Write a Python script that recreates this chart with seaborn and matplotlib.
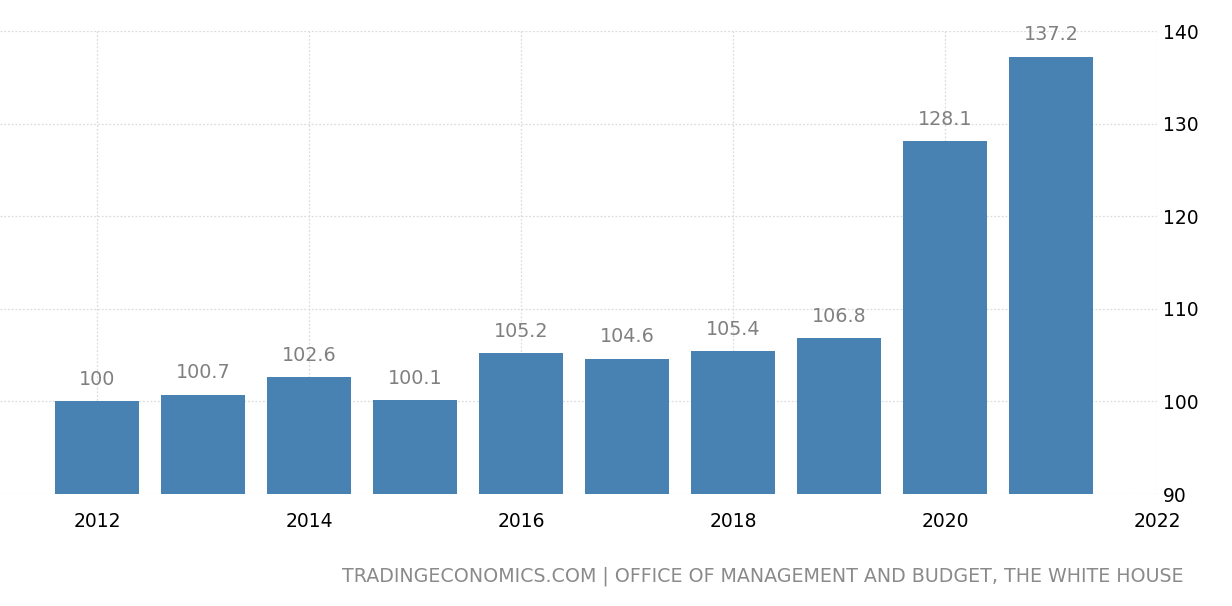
import matplotlib
matplotlib.use("Agg")
import matplotlib.pyplot as plt
import seaborn as sns
import pandas as pd

years = [2012, 2013, 2014, 2015, 2016, 2017, 2018, 2019, 2020, 2021]
values = [100, 100.7, 102.6, 100.1, 105.2, 104.6, 105.4, 106.8, 128.1, 137.2]
labels = ["100", "100.7", "102.6", "100.1", "105.2", "104.6", "105.4", "106.8", "128.1", "137.2"]
xticks = [2012, 2014, 2016, 2018, 2020, 2022]
yticks = [90, 100, 110, 120, 130, 140]
source = "TRADINGECONOMICS.COM | OFFICE OF MANAGEMENT AND BUDGET, THE WHITE HOUSE"

sns.set_style("white")
plt.rcParams['font.family'] = ['DejaVu Sans']

df = pd.DataFrame({"year": years, "value": values})

fig = plt.figure(figsize=(12.32, 6.06), dpi=100)
ax = fig.add_axes([0.0, 1 - 494 / 606, 1157 / 1232, (494 - 31) / 606])

sns.barplot(data=df, x="year", y="value", native_scale=True, width=0.8,
            color="#4882b2", saturation=1, ax=ax, zorder=3, edgecolor="none")

ax.set_xlim(2012 - 97 / 106, 2022)
ax.set_ylim(90, 140)
ax.set_xticks(xticks)
ax.set_xticklabels([str(t) for t in xticks])
ax.set_yticks(yticks)
ax.yaxis.tick_right()
ax.tick_params(axis="y", length=0, pad=4, labelsize=13.5, colors="black")
ax.tick_params(axis="x", length=5, width=1, color="#d0d0d0", pad=8, labelsize=13.5, labelcolor="black")
ax.set_xlabel("")
ax.set_ylabel("")
for s in ax.spines.values():
    s.set_visible(False)
ax.grid(True, which="major", axis="both", color="#dcdcdc", linestyle=(0, (1.5, 1.5)), linewidth=0.9, zorder=0)

for x, v, lab in zip(years, values, labels):
    ax.annotate(lab, (x, v), xytext=(0, 9), textcoords="offset points",
                ha="center", va="bottom", fontsize=13.8, color="#808080")

fig.text(1183 / 1232, 1 - 576 / 606, source, ha="right", va="center", fontsize=13.7, color="#8a8a8a")

fig.savefig("out.png", dpi=100)
